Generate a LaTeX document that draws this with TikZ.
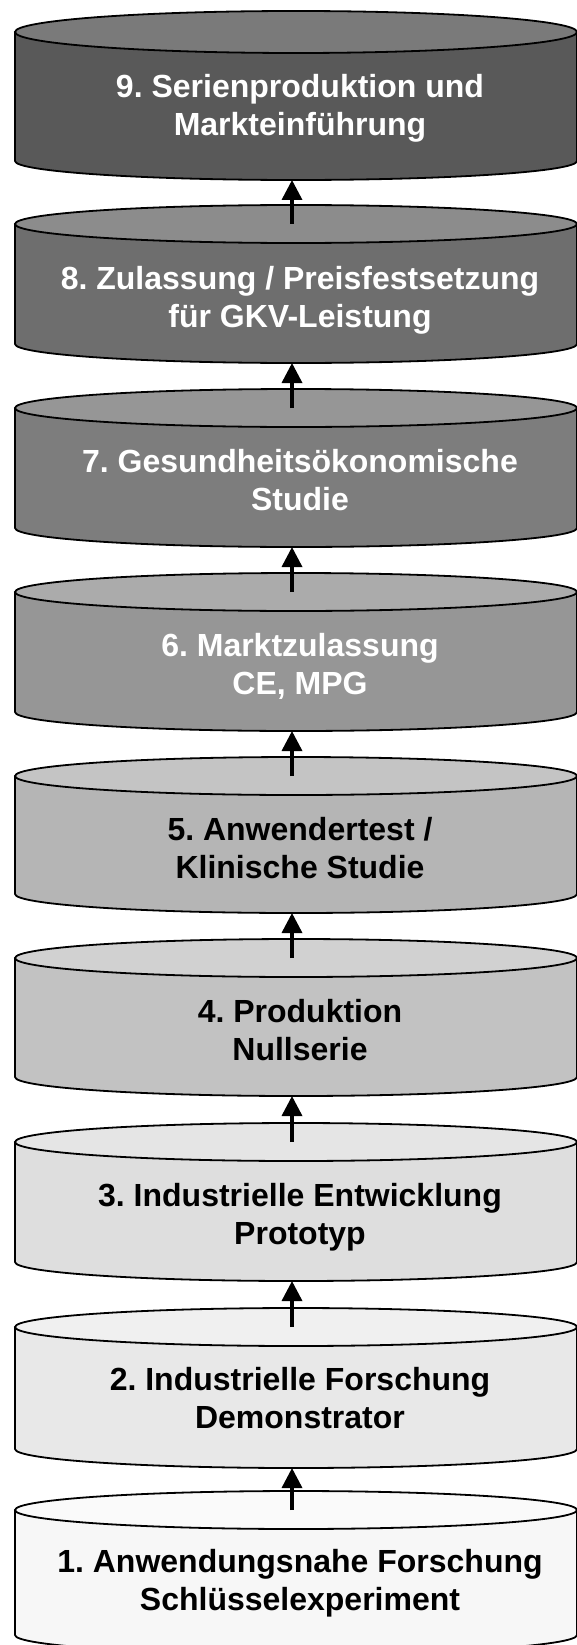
\documentclass[tikz,border=0pt]{standalone}
\usepackage{fontspec}
\setmainfont{Liberation Sans}
\usetikzlibrary{arrows.meta}
\frenchspacing

\begin{document}
\begin{tikzpicture}[x=1pt,y=-1pt,line width=1.8pt,>={Triangle[length=20pt,width=20pt]},
	body/.style={draw,line join=round},
	lid/.style={draw},
	stage/.style={anchor=north,inner sep=0pt,align=center,font=\fontsize{32}{38}\selectfont\bfseries},
	up/.style={->,line width=3.5pt}]
\useasboundingbox (0,0) rectangle (576,1645);

% stage 9
\path[body,fill=black!65] (15,32) -- (15,161) arc[start angle=180,end angle=360,x radius=281pt,y radius=19pt] -- (577,32) -- cycle;
\path[lid,fill=black!52] (296,32) ellipse[x radius=281pt,y radius=21pt];
% stage 8
\path[body,fill=black!57] (15,224) -- (15,344) arc[start angle=180,end angle=360,x radius=281pt,y radius=19pt] -- (577,224) -- cycle;
\path[lid,fill=black!45] (296,224) ellipse[x radius=281pt,y radius=19pt];
% stage 7
\path[body,fill=black!51] (15,408) -- (15,528) arc[start angle=180,end angle=360,x radius=281pt,y radius=19pt] -- (577,408) -- cycle;
\path[lid,fill=black!41] (296,408) ellipse[x radius=281pt,y radius=19pt];
% stage 6
\path[body,fill=black!41] (15,592) -- (15,712) arc[start angle=180,end angle=360,x radius=281pt,y radius=19pt] -- (577,592) -- cycle;
\path[lid,fill=black!33] (296,592) ellipse[x radius=281pt,y radius=19pt];
% stage 5
\path[body,fill=black!29] (15,776) -- (15,894) arc[start angle=180,end angle=360,x radius=281pt,y radius=19pt] -- (577,776) -- cycle;
\path[lid,fill=black!23] (296,776) ellipse[x radius=281pt,y radius=19pt];
% stage 4
\path[body,fill=black!24] (15,958) -- (15,1077) arc[start angle=180,end angle=360,x radius=281pt,y radius=19pt] -- (577,958) -- cycle;
\path[lid,fill=black!18] (296,958) ellipse[x radius=281pt,y radius=19pt];
% stage 3
\path[body,fill=black!13] (15,1142) -- (15,1262) arc[start angle=180,end angle=360,x radius=281pt,y radius=19pt] -- (577,1142) -- cycle;
\path[lid,fill=black!10] (296,1142) ellipse[x radius=281pt,y radius=19pt];
% stage 2
\path[body,fill=black!9] (15,1327) -- (15,1449) arc[start angle=180,end angle=360,x radius=281pt,y radius=19pt] -- (577,1327) -- cycle;
\path[lid,fill=black!6] (296,1327) ellipse[x radius=281pt,y radius=19pt];
% stage 1
\path[body,fill=black!3] (15,1510) -- (15,1635) arc[start angle=180,end angle=360,x radius=281pt,y radius=19pt] -- (577,1510) -- cycle;
\path[lid,fill=black!2] (296,1510) ellipse[x radius=281pt,y radius=19pt];

\node[stage,text=white] (t9) at (300,73) {9. Serienproduktion und\\Markteinführung};
\node[stage,text=white] (t8) at (300,265) {8. Zulassung / Preisfestsetzung\\für GKV-Leistung};
\node[stage,text=white] (t7) at (300,448) {7. Gesundheitsökonomische\\Studie};
\node[stage,text=white] (t6) at (300,632) {6. Marktzulassung\\CE, MPG};
\node[stage] (t5) at (300,816) {5. Anwendertest /\\Klinische Studie};
\node[stage] (t4) at (300,998) {4. Produktion\\Nullserie};
\node[stage] (t3) at (300,1182) {3. Industrielle Entwicklung\\Prototyp};
\node[stage] (t2) at (300,1366) {2. Industrielle Forschung\\Demonstrator};
\node[stage] (t1) at (300,1548) {1. Anwendungsnahe Forschung\\Schlüsselexperiment};

% top face centres and bottoms
\coordinate (f8) at (292,224);
\coordinate (f7) at (292,408);
\coordinate (f6) at (292,592);
\coordinate (f5) at (292,776);
\coordinate (f4) at (292,958);
\coordinate (f3) at (292,1142);
\coordinate (f2) at (292,1327);
\coordinate (f1) at (292,1510);
\coordinate (b9) at (292,180);
\coordinate (b8) at (292,363);
\coordinate (b7) at (292,547);
\coordinate (b6) at (292,731);
\coordinate (b5) at (292,913);
\coordinate (b4) at (292,1096);
\coordinate (b3) at (292,1281);
\coordinate (b2) at (292,1468);

\draw[up] (f8) -- (b9);
\draw[up] (f7) -- (b8);
\draw[up] (f6) -- (b7);
\draw[up] (f5) -- (b6);
\draw[up] (f4) -- (b5);
\draw[up] (f3) -- (b4);
\draw[up] (f2) -- (b3);
\draw[up] (f1) -- (b2);
\end{tikzpicture}
\end{document}
